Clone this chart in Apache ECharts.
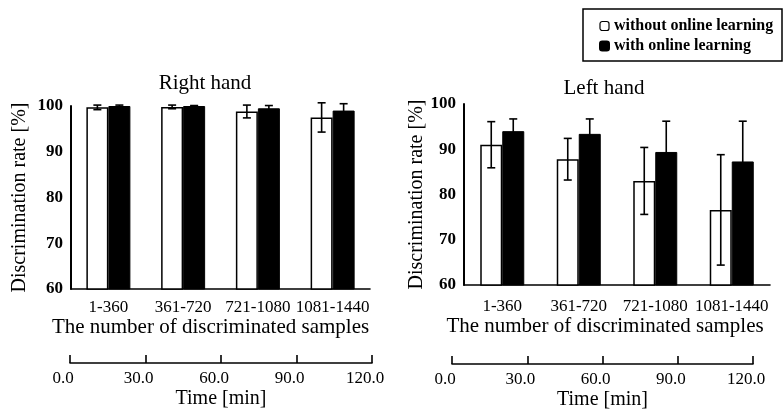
<!DOCTYPE html>
<html>
<head>
<meta charset="utf-8">
<script src="https://cdn.jsdelivr.net/npm/echarts@6/dist/echarts.min.js"></script>
<style>
  html, body { margin: 0; padding: 0; background: #fff; }
  #chart { width: 784px; height: 416px; }
</style>
</head>
<body>
<div id="chart"></div>
<script>
// data
const categories = ["1-360", "361-720", "721-1080", "1081-1440"];
const timeTicks = [0, 30, 60, 90, 120];
const seriesNames = ["without online learning", "with online learning"];

// right hand
const rightWithout = [99.7, 99.8, 98.8, 97.5];
const rightWithoutErr = [0.5, 0.4, 1.4, 3.2];
const rightWith = [100, 100, 99.5, 99.0];
const rightWithErr = [0.2, 0.1, 0.6, 1.5];

// left hand
const leftWithout = [91.0, 87.8, 83.0, 76.6];
const leftWithoutErr = [5.1, 4.6, 7.4, 12.2];
const leftWith = [94.0, 93.4, 89.4, 87.3];
const leftWithErr = [2.7, 3.3, 6.8, 8.9];

const FONT = "Liberation Serif";
const BAR_W = 22;

const chart = echarts.init(document.getElementById("chart"));

// error bars drawn on top of the bars, offset to the bar's side
function errorBars(axisIndex, values, errs, side) {
  return {
    type: "custom",
    xAxisIndex: axisIndex,
    yAxisIndex: axisIndex,
    z: 10,
    silent: true,
    encode: { x: 0, y: [1, 2] },
    data: values.map((v, i) => [i, v - errs[i], v + errs[i]]),
    renderItem: (params, api) => {
      const lo = api.coord([api.value(0), api.value(1)]);
      const hi = api.coord([api.value(0), api.value(2)]);
      const x = lo[0] + side * BAR_W / 2;
      const cap = 4;
      const style = { stroke: "#000", lineWidth: 1.6 };
      return {
        type: "group",
        children: [
          { type: "line", shape: { x1: x, y1: lo[1], x2: x, y2: hi[1] }, style },
          { type: "line", shape: { x1: x - cap, y1: lo[1], x2: x + cap, y2: lo[1] }, style },
          { type: "line", shape: { x1: x - cap, y1: hi[1], x2: x + cap, y2: hi[1] }, style },
        ],
      };
    },
  };
}

function barPair(axisIndex, without, withL) {
  return [
    {
      name: seriesNames[0],
      type: "bar",
      xAxisIndex: axisIndex,
      yAxisIndex: axisIndex,
      barWidth: BAR_W,
      barGap: "0%",
      itemStyle: { color: "#fff", borderColor: "#000", borderWidth: 1.5 },
      data: without,
    },
    {
      name: seriesNames[1],
      type: "bar",
      xAxisIndex: axisIndex,
      yAxisIndex: axisIndex,
      barWidth: BAR_W,
      barGap: "0%",
      itemStyle: { color: "#000", borderColor: "#000", borderWidth: 1 },
      data: withL,
    },
  ];
}

function catAxis(gridIndex, labelMargin, nameGap, shift) {
  return {
    type: "category",
    gridIndex: gridIndex,
    data: categories,
    axisLine: { lineStyle: { color: "#000", width: 1.6 } },
    axisTick: { show: false },
    axisLabel: { color: "#000", fontFamily: FONT, fontSize: 17, margin: labelMargin, interval: 0 },
    name: "The number of discriminated samples",
    nameLocation: "middle",
    nameGap: nameGap,
    nameTextStyle: { color: "#000", fontFamily: FONT, fontSize: 21, padding: [0, shift * 2, 0, 0] },
  };
}

function valAxis(gridIndex, nameGap) {
  return {
    type: "value",
    gridIndex: gridIndex,
    min: 60,
    max: 100,
    interval: 10,
    axisLine: { show: true, lineStyle: { color: "#000", width: 2 } },
    axisTick: { show: false },
    splitLine: { show: false },
    axisLabel: { color: "#000", fontFamily: FONT, fontSize: 17, fontWeight: "bold", margin: 8 },
    name: "Discrimination rate [%]",
    nameLocation: "middle",
    nameGap: nameGap,
    nameRotate: 90,
    nameTextStyle: { color: "#000", fontFamily: FONT, fontSize: 20 },
  };
}

function timeAxis(gridIndex) {
  return {
    type: "value",
    gridIndex: gridIndex,
    min: timeTicks[0],
    max: timeTicks[timeTicks.length - 1],
    interval: timeTicks[1] - timeTicks[0],
    axisLine: { show: true, lineStyle: { color: "#000", width: 1.6 } },
    axisTick: { show: true, inside: true, length: 8, lineStyle: { color: "#000", width: 1.6 } },
    splitLine: { show: false },
    axisLabel: {
      color: "#000", fontFamily: FONT, fontSize: 17, margin: 7, padding: [0, 14, 0, 0],
      formatter: (v) => v.toFixed(1),
    },
    name: "Time [min]",
    nameLocation: "middle",
    nameGap: 26,
    nameTextStyle: { color: "#000", fontFamily: FONT, fontSize: 20 },
  };
}

function hiddenAxis(gridIndex) {
  return { type: "value", gridIndex: gridIndex, show: false, min: 0, max: 1 };
}

const option = {
  backgroundColor: "#fff",
  animation: false,
  title: [
    {
      text: "Right hand", left: 200, top: 68, textAlign: "center",
      textStyle: { color: "#000", fontFamily: FONT, fontSize: 21, fontWeight: "normal" },
    },
    {
      text: "Left hand", left: 599, top: 73, textAlign: "center",
      textStyle: { color: "#000", fontFamily: FONT, fontSize: 21, fontWeight: "normal" },
    },
  ],
  legend: {
    orient: "vertical",
    left: 594,
    top: 13,
    itemWidth: 9,
    itemHeight: 9,
    itemGap: 4,
    selectedMode: false,
    data: [
      { name: seriesNames[0], itemStyle: { color: "#fff", borderColor: "#000", borderWidth: 1.2 } },
      { name: seriesNames[1], itemStyle: { color: "#000" } },
    ],
    textStyle: { color: "#000", fontFamily: FONT, fontSize: 16, fontWeight: "bold" },
  },
  graphic: [
    {
      type: "rect",
      shape: { x: 583, y: 9, width: 199, height: 52 },
      style: { fill: "none", stroke: "#000", lineWidth: 1.5 },
      silent: true,
    },
  ],
  grid: [
    { left: 71, width: 299, top: 106, height: 183 },
    { left: 464, width: 306, top: 104, height: 181 },
    { left: 70, width: 302, top: 347, height: 16 },
    { left: 452, width: 301, top: 348, height: 16 },
  ],
  xAxis: [catAxis(0, 10, 28, 10), catAxis(1, 13, 31, 12), timeAxis(2), timeAxis(3)],
  yAxis: [valAxis(0, 41), valAxis(1, 35), hiddenAxis(2), hiddenAxis(3)],
  series: [
    ...barPair(0, rightWithout, rightWith),
    ...barPair(1, leftWithout, leftWith),
    errorBars(0, rightWithout, rightWithoutErr, -1),
    errorBars(0, rightWith, rightWithErr, 1),
    errorBars(1, leftWithout, leftWithoutErr, -1),
    errorBars(1, leftWith, leftWithErr, 1),
  ],
};

chart.setOption(option);
</script>
</body>
</html>
